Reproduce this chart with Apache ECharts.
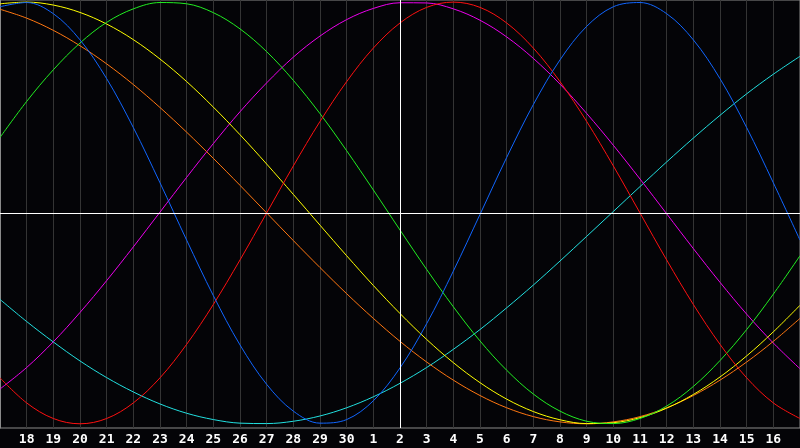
<!DOCTYPE html>
<html>
<head>
<meta charset="utf-8">
<script src="https://cdn.jsdelivr.net/npm/echarts@6/dist/echarts.min.js"></script>
<style>
html,body{margin:0;padding:0;background:#040407;}
#chart{width:800px;height:448px;}
</style>
</head>
<body>
<div id="chart"></div>
<script>
const days = ['17','18','19','20','21','22','23','24','25','26','27','28','29','30','1','2','3','4','5','6','7','8','9','10','11','12','13','14','15','16','17'];
const todayIndex = 15;
const physical = [0.978,0.998,0.945,0.821,0.637,0.405,0.143,-0.129,-0.392,-0.626,-0.813,-0.940,-0.997,-0.980,-0.891,-0.735,-0.525,-0.276,-0.007,0.263,0.514,0.726,0.885,0.978,0.998,0.945,0.821,0.637,0.405,0.143,-0.129];
const intellectual = [0.358,0.529,0.679,0.806,0.904,0.968,0.998,0.992,0.950,0.873,0.765,0.629,0.471,0.295,0.109,-0.081,-0.268,-0.445,-0.607,-0.746,-0.859,-0.940,-0.988,-0.999,-0.975,-0.916,-0.823,-0.700,-0.553,-0.385,-0.203];
const emotional = [-0.782,-0.901,-0.975,-1,-0.975,-0.901,-0.782,-0.623,-0.434,-0.223,0,0.223,0.434,0.623,0.782,0.901,0.975,1,0.975,0.901,0.782,0.623,0.434,0.223,0,-0.223,-0.434,-0.623,-0.782,-0.901,-0.975];
const spiritual = [-0.410,-0.515,-0.612,-0.702,-0.781,-0.849,-0.906,-0.950,-0.980,-0.997,-0.999,-0.988,-0.963,-0.924,-0.872,-0.808,-0.733,-0.647,-0.553,-0.450,-0.342,-0.228,-0.111,0.007,0.125,0.242,0.355,0.463,0.565,0.658,0.743];
const aesthetic = [0.992,1.000,0.986,0.951,0.896,0.822,0.730,0.623,0.502,0.371,0.232,0.088,-0.058,-0.203,-0.344,-0.477,-0.600,-0.710,-0.805,-0.883,-0.942,-0.981,-0.999,-0.995,-0.971,-0.926,-0.861,-0.778,-0.678,-0.564,-0.438];
const awareness = [0.966,0.924,0.866,0.793,0.707,0.609,0.5,0.383,0.259,0.131,0,-0.131,-0.259,-0.383,-0.5,-0.609,-0.707,-0.793,-0.866,-0.924,-0.966,-0.991,-1,-0.991,-0.966,-0.924,-0.866,-0.793,-0.707,-0.609,-0.5];
const intuitive = [-0.835,-0.733,-0.611,-0.472,-0.321,-0.161,0.004,0.169,0.329,0.480,0.617,0.739,0.839,0.917,0.970,0.997,0.996,0.968,0.914,0.835,0.733,0.611,0.472,0.321,0.161,-0.004,-0.169,-0.329,-0.480,-0.617,-0.739];

const chart = echarts.init(document.getElementById('chart'), null, {renderer:'canvas'});
function s(name, data, color, extra) {
  return Object.assign({
    name: name, type: 'line', data: data, showSymbol: false, smooth: 0.35,
    lineStyle: {color: color, width: 1}, itemStyle: {color: color},
    animation: false, silent: true
  }, extra || {});
}
chart.setOption({
  backgroundColor: '#040407',
  animation: false,
  grid: {left: 0, right: 0, top: 0, bottom: 20, show: true, borderColor: '#8a8a8a', borderWidth: 1, backgroundColor: 'transparent'},
  xAxis: {
    type: 'category', data: days, boundaryGap: false,
    axisLine: {show: true, lineStyle: {color: '#9a9a9a', width: 1}},
    axisTick: {show: false},
    axisLabel: {
      color: '#ffffff', fontFamily: 'DejaVu Sans Mono', fontWeight: 'bold', fontSize: 13, margin: 5,
      interval: function (i) { return i > 0 && i < days.length - 1; }
    },
    splitLine: {show: true, interval: 0, lineStyle: {color: '#343434', width: 1}}
  },
  yAxis: {
    type: 'value', min: -1.02, max: 1.01,
    axisLine: {show: true, lineStyle: {color: '#8a8a8a'}},
    axisTick: {show: false}, axisLabel: {show: false}, splitLine: {show: false}
  },
  series: [
    s('zero', [], '#ffffff', {
      markLine: {
        silent: true, symbol: 'none', label: {show: false}, animation: false,
        lineStyle: {color: '#ffffff', width: 1, type: 'solid'},
        data: [{yAxis: 0}, {xAxis: todayIndex}]
      }
    }),
    s('Spiritual', spiritual, '#22e0e0'),
    s('Intuitive', intuitive, '#ee00ee'),
    s('Awareness', awareness, '#ff7711'),
    s('Aesthetic', aesthetic, '#ffff00'),
    s('Intellectual', intellectual, '#22ee22'),
    s('Emotional', emotional, '#ff1111'),
    s('Physical', physical, '#1166ff')
  ]
});
</script>
</body>
</html>
